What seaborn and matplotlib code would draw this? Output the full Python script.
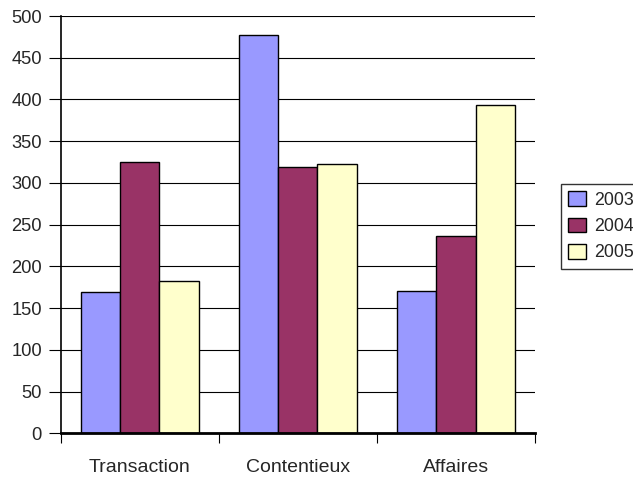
import pandas as pd
import matplotlib.pyplot as plt
import seaborn as sns

# === Data
categories = ["Transaction", "Contentieux", "Affaires"]
years = ["2003", "2004", "2005"]
values_2003 = [169, 477, 170]
values_2004 = [325, 319, 236]
values_2005 = [183, 323, 393]
colors = ["#9999FF", "#993366", "#FFFFCC"]

df = pd.DataFrame({
    "category": categories * 3,
    "year": [y for y in years for _ in categories],
    "value": values_2003 + values_2004 + values_2005,
})

sns.set_style("white")
plt.rcParams["font.family"] = ["Liberation Sans", "DejaVu Sans"]
plt.rcParams["font.size"] = 14

fig = plt.figure(figsize=(6.33, 4.78), dpi=100)
ax = fig.add_axes([0.0956, 0.0935, 0.7494, 0.873])

sns.barplot(data=df, x="category", y="value", hue="year", palette=colors,
            width=0.747, edgecolor="black", linewidth=1, saturation=1, ax=ax, zorder=3)

# === Axes styling (Excel look)
ax.set_ylim(0, 500)
ax.set_yticks(range(0, 501, 50))
ax.set_xlim(-0.5, 2.5)
ax.yaxis.grid(True, color="black", linewidth=0.8, zorder=0)
ax.set_axisbelow(True)
ax.set_xlabel("")
ax.set_ylabel("")
for side in ["top", "right"]:
    ax.spines[side].set_visible(False)
ax.spines["left"].set_color("black")
ax.spines["left"].set_linewidth(1.2)
ax.spines["bottom"].set_color("black")
ax.spines["bottom"].set_linewidth(2)
ax.spines["bottom"].set_zorder(5)

ax.tick_params(axis="y", length=8.5, width=0.8, color="black", pad=5, left=True, labelsize=13.2)
ax.tick_params(axis="x", which="major", length=0, pad=18.5, labelsize=14)
ax.set_xticks([-0.5, 0.5, 1.5, 2.5], minor=True)
ax.tick_params(axis="x", which="minor", length=7.5, width=0.8, color="black", bottom=True)

# === Legend
handles, labels = ax.get_legend_handles_labels()
ax.legend(handles, labels, loc="upper left", bbox_to_anchor=(0.886, 0.615),
          bbox_transform=fig.transFigure, borderaxespad=0, fancybox=False,
          edgecolor="#333333", framealpha=1, handlelength=1.0, handleheight=0.9,
          handletextpad=0.45, labelspacing=0.5, borderpad=0.4, fontsize=12.8)
ax.get_legend().get_frame().set_linewidth(1)

fig.savefig("out.png", dpi=100)
plt.close(fig)
